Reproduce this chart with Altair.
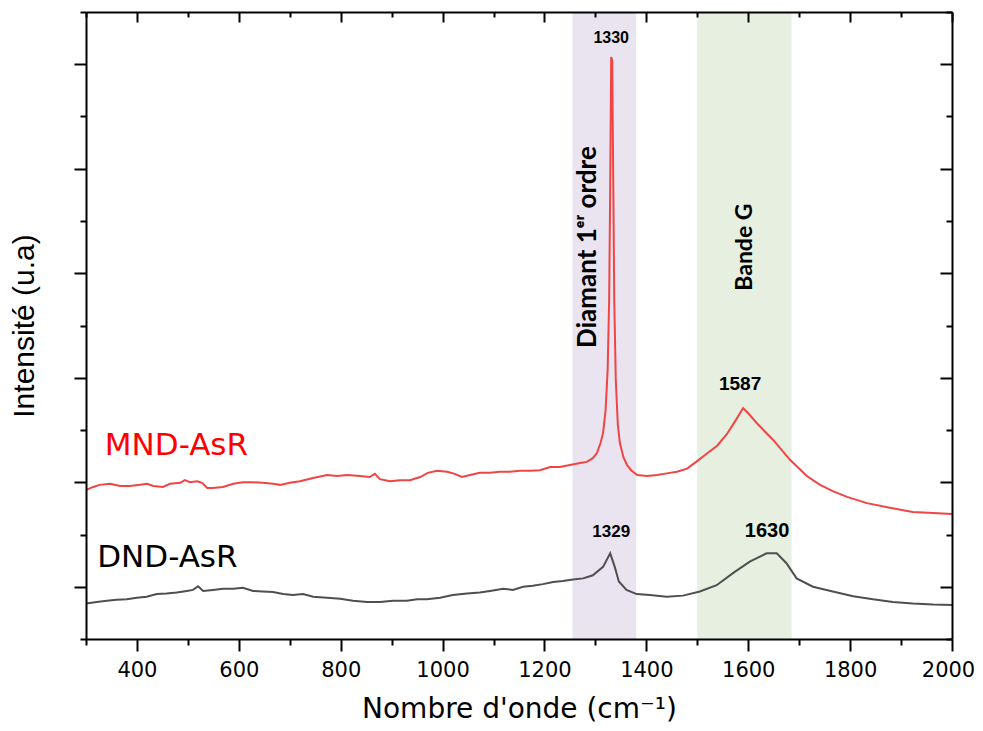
import altair as alt
import pandas as pd

# ---------------- data ----------------
mnd_x = [300, 314, 327, 347, 367, 386, 406, 420, 432, 451,
         465, 485, 494, 504, 518, 528, 538, 549, 569, 589,
         608, 628, 647, 667, 681, 700, 720, 746, 773, 793,
         812, 838, 857, 867, 877, 897, 916, 936, 956, 971,
         989, 1009, 1024, 1038, 1054, 1073, 1093, 1113, 1132, 1152,
         1172, 1191, 1211, 1230, 1250, 1270, 1283, 1295, 1303, 1310,
         1315, 1320, 1324, 1327, 1329, 1331, 1333, 1335, 1337, 1340,
         1344, 1348, 1355, 1362, 1370, 1382, 1401, 1421, 1440, 1460,
         1480, 1499, 1519, 1539, 1558, 1575, 1590, 1600, 1617, 1649,
         1682, 1715, 1741, 1766, 1794, 1833, 1878, 1923, 1963, 2000]
mnd_y = [2.85, 2.91, 2.95, 2.97, 2.93, 2.93, 2.95, 2.97, 2.93, 2.91,
         2.97, 2.99, 3.04, 3.00, 3.02, 2.99, 2.89, 2.89, 2.91, 2.97,
         3.00, 3.00, 2.99, 2.97, 2.95, 2.99, 3.02, 3.08, 3.14, 3.12,
         3.14, 3.12, 3.10, 3.16, 3.06, 3.02, 3.04, 3.04, 3.10, 3.18,
         3.22, 3.20, 3.16, 3.10, 3.14, 3.18, 3.18, 3.20, 3.20, 3.22,
         3.22, 3.23, 3.29, 3.29, 3.33, 3.37, 3.39, 3.46, 3.56, 3.75,
         3.94, 4.38, 5.15, 6.49, 8.59, 11.14, 11.08, 8.78, 6.49, 4.96,
         4.10, 3.75, 3.48, 3.33, 3.23, 3.14, 3.12, 3.14, 3.17, 3.20,
         3.26, 3.40, 3.55, 3.70, 3.92, 4.18, 4.42, 4.32, 4.13, 3.81,
         3.43, 3.12, 2.95, 2.83, 2.72, 2.60, 2.51, 2.43, 2.41, 2.39]

dnd_x = [300, 321, 341, 360, 380, 400, 419, 439, 458, 478,
         498, 510, 520, 530, 549, 569, 589, 608, 628, 647,
         667, 687, 706, 726, 746, 773, 799, 824, 852, 877,
         903, 930, 950, 969, 995, 1020, 1048, 1073, 1093, 1119,
         1138, 1158, 1177, 1197, 1217, 1236, 1256, 1276, 1295, 1315,
         1329, 1338, 1346, 1361, 1381, 1407, 1440, 1472, 1505, 1538,
         1570, 1603, 1636, 1656, 1675, 1695, 1727, 1766, 1806, 1845,
         1884, 1923, 1963, 2000]
dnd_y = [0.68, 0.71, 0.73, 0.75, 0.76, 0.79, 0.81, 0.86, 0.87, 0.89,
         0.92, 0.94, 1.01, 0.92, 0.94, 0.96, 0.96, 0.98, 0.92, 0.91,
         0.90, 0.86, 0.84, 0.86, 0.81, 0.79, 0.77, 0.73, 0.71, 0.71,
         0.73, 0.73, 0.76, 0.76, 0.79, 0.84, 0.87, 0.89, 0.92, 0.96,
         0.94, 1.00, 1.02, 1.05, 1.09, 1.11, 1.14, 1.16, 1.22, 1.38,
         1.64, 1.38, 1.10, 0.94, 0.86, 0.84, 0.81, 0.83, 0.91, 1.03,
         1.26, 1.48, 1.64, 1.64, 1.45, 1.16, 1.00, 0.91, 0.82, 0.76,
         0.71, 0.68, 0.66, 0.65]

series_names = ["MND-AsR", "DND-AsR"]
series_label_x = [337, 322]
series_label_y = [3.69, 1.55]

band_names = ["Diamant 1ᵉʳ ordre", "Bande G"]
band_start = [1255, 1500]
band_end = [1380, 1685]
band_label_x = [1285, 1594]
band_label_y = [7.5, 7.5]

peak_text = ["1330", "1587", "1329", "1630"]
peak_x = [1331, 1584, 1331, 1637]
peak_y = [11.5, 4.88, 2.05, 2.07]

x_ticks = list(range(300, 2001, 100))
y_ticks = list(range(0, 13))

# ---------------- styles ----------------
series_line_colors = ["#f14545", "#4f4f4f"]
series_text_colors = ["#ff0000", "#000000"]
band_colors = ["#e9e4f0", "#e6efe0"]
band_text_sizes = [26, 23]
peak_sizes = [16, 19, 17, 20]

W, H = 866, 627

spec = pd.concat([
    pd.DataFrame({"wn": mnd_x, "I": mnd_y, "serie": series_names[0]}),
    pd.DataFrame({"wn": dnd_x, "I": dnd_y, "serie": series_names[1]}),
])
bands = pd.DataFrame({"name": band_names, "x0": band_start, "x1": band_end,
                      "lx": band_label_x, "ly": band_label_y, "s": band_text_sizes})
peaks = pd.DataFrame({"t": peak_text, "x": peak_x, "y": peak_y, "s": peak_sizes})
slabels = pd.DataFrame({"t": series_names, "x": series_label_x, "y": series_label_y})

xs = alt.Scale(domain=[300, 2000], nice=False, zero=False)
ys = alt.Scale(domain=[0, 12], nice=False, zero=False)

major_x = "datum.value % 200 === 0"
major_y = "datum.value % 2 === 1"

common = dict(grid=False, domainColor="black", domainWidth=2, tickColor="black",
              tickWidth=2, zindex=2)

bottom_axis = alt.Axis(
    orient="bottom", values=x_ticks, format="d",
    labelExpr=f"{major_x} ? datum.label : ''",
    tickSize={"condition": {"test": major_x, "value": 12}, "value": 6},
    labelOffset={"condition": {"test": "datum.value === 2000", "value": -4}, "value": 0},
    labelFont="DejaVu Sans", labelFontSize=21, labelColor="black",
    labelPadding=8, labelFlush=False, labelOverlap=False,
    title="Nombre d'onde (cm⁻¹)", titleFont="DejaVu Sans", titleFontSize=28,
    titleFontWeight="normal", titleColor="black", titlePadding=15, **common)
left_axis = alt.Axis(
    orient="left", values=y_ticks, labels=False, minExtent=0,
    tickSize={"condition": {"test": major_y, "value": 12}, "value": 6},
    title="Intensité (u.a)", titleFont="Liberation Sans", titleFontSize=30,
    titleFontWeight="normal", titleColor="black", titlePadding=34, **common)
top_axis = alt.Axis(
    orient="bottom", offset=-H, values=x_ticks, labels=False, title=None,
    tickSize={"condition": {"test": major_x, "value": 10}, "value": 5}, **common)
right_axis = alt.Axis(
    orient="left", offset=-W, values=y_ticks, labels=False, title=None, minExtent=0,
    tickSize={"condition": {"test": major_y, "value": 12}, "value": 6}, **common)

band_layer = alt.Chart(bands).mark_rect().encode(
    x=alt.X("x0:Q", scale=xs, axis=None),
    x2="x1:Q",
    color=alt.Color("name:N", scale=alt.Scale(domain=band_names, range=band_colors), legend=None),
)
band_text = alt.Chart(bands).mark_text(
    angle=270, font="Lato", fontWeight="bold", color="black",
    align="center", baseline="middle").encode(
    x=alt.X("lx:Q", scale=xs, axis=None),
    y=alt.Y("ly:Q", scale=ys, axis=None),
    text="name:N",
    size=alt.Size("s:Q", scale=None, legend=None),
)
lines = alt.Chart(spec).mark_line(strokeWidth=2, clip=True).encode(
    x=alt.X("wn:Q", scale=xs, axis=bottom_axis),
    y=alt.Y("I:Q", scale=ys, axis=left_axis),
    color=alt.Color("serie:N", scale=alt.Scale(domain=series_names, range=series_line_colors), legend=None),
)
frame = alt.Chart(spec).mark_line(opacity=0).encode(
    x=alt.X("wn:Q", scale=xs, axis=top_axis),
    y=alt.Y("I:Q", scale=ys, axis=right_axis),
    detail="serie:N",
)
peak_layer = alt.Chart(peaks).mark_text(
    font="Liberation Sans", fontWeight="bold", color="black",
    align="center", baseline="middle").encode(
    x=alt.X("x:Q", scale=xs, axis=None),
    y=alt.Y("y:Q", scale=ys, axis=None),
    text="t:N",
    size=alt.Size("s:Q", scale=None, legend=None),
)
series_text = alt.Chart(slabels).mark_text(
    font="DejaVu Sans", fontSize=31, align="left", baseline="middle").encode(
    x=alt.X("x:Q", scale=xs, axis=None),
    y=alt.Y("y:Q", scale=ys, axis=None),
    text="t:N",
    color=alt.Color("t:N", scale=alt.Scale(domain=series_names, range=series_text_colors), legend=None),
)

chart = alt.layer(band_layer, band_text, lines, frame, peak_layer, series_text).resolve_scale(
    color="independent", size="independent"
).resolve_axis(x="independent", y="independent").properties(
    width=W, height=H, autosize="none",
    padding={"left": 78, "top": 4, "right": 23, "bottom": 84},
).configure_view(stroke=None).configure(background="white")

chart.save("out.html", embed_options={"renderer": "svg", "actions": False})
